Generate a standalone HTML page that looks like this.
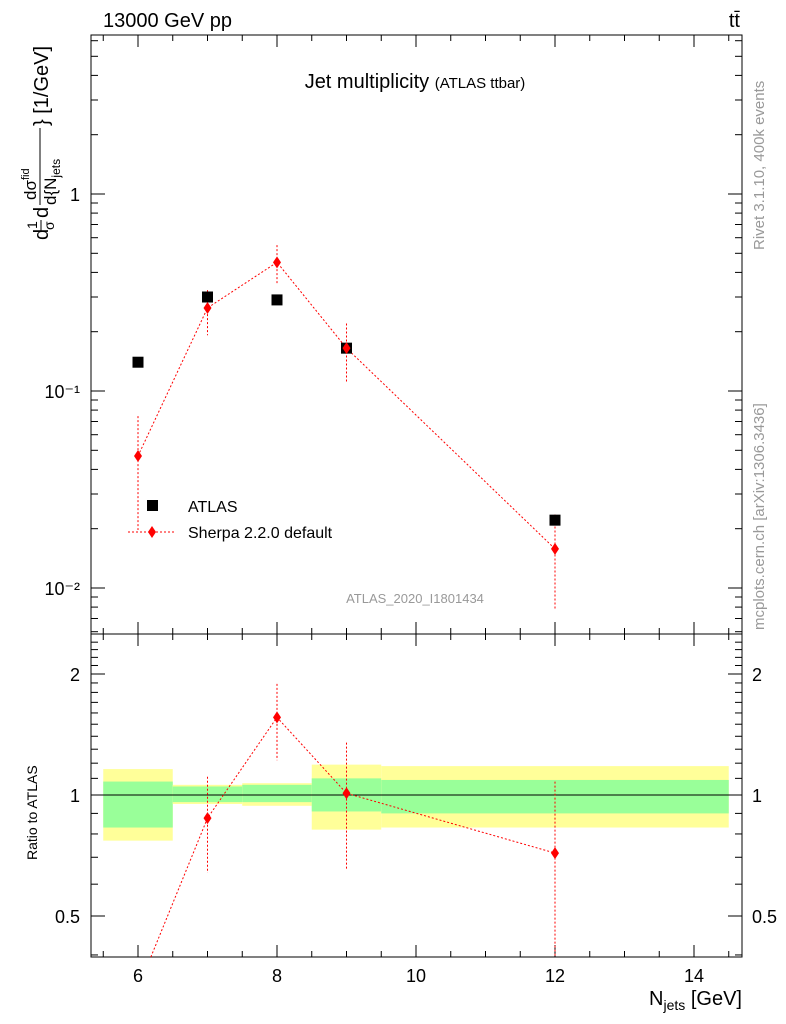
<!DOCTYPE html>
<html><head><meta charset="utf-8"><style>
body{margin:0;background:#fff}
svg{display:block;font-family:"Liberation Sans",sans-serif}
</style></head><body>
<svg id="c" width="786" height="1024" viewBox="0 0 786 1024">
<rect width="786" height="1024" fill="#fff"/>
<g id="bands"></g>
<g id="frames"></g>
<g id="ticks"></g>
<g id="series"></g>
<text x="103" y="27" font-size="20">13000 GeV pp</text>
<text x="740" y="27" font-size="20" text-anchor="end">tt̄</text>
<text x="415" y="88" font-size="20" text-anchor="middle">Jet multiplicity <tspan font-size="15">(ATLAS ttbar)</tspan></text>
<text x="415" y="603" font-size="13" fill="#999" text-anchor="middle">ATLAS_2020_I1801434</text>
<text transform="translate(764,250) rotate(-90)" font-size="15" fill="#999">Rivet 3.1.10,  400k events</text>
<text transform="translate(764,630) rotate(-90)" font-size="15" fill="#999">mcplots.cern.ch [arXiv:1306.3436]</text>
<g transform="rotate(-90)">
<text x="-240" y="48" font-size="20">d</text>
<text x="-229" y="37" font-size="14">1</text>
<text x="-230" y="54" font-size="14">σ</text>
<line x1="-231" x2="-220" y1="41" y2="41" stroke="#000"/>
<text x="-218" y="48" font-size="20">d</text>
<text x="-200" y="36" font-size="17">dσ<tspan font-size="11" dy="-7">fid</tspan></text>
<line x1="-205" x2="-128" y1="40" y2="40" stroke="#000"/>
<text x="-205" y="56" font-size="17">d{N<tspan font-size="12" dy="4">jets</tspan></text>
<text x="-126" y="48" font-size="20">} [1/GeV]</text>
</g>
<text transform="translate(37,860) rotate(-90)" font-size="14">Ratio to ATLAS</text>
<text x="742" y="1005" font-size="20" text-anchor="end">N<tspan font-size="14" dy="5">jets</tspan><tspan dy="-5"> [GeV]</tspan></text>
<g>
<rect x="147" y="500" width="11" height="11" fill="#000"/>
<text x="188" y="512" font-size="16">ATLAS</text>
<line x1="128" y1="532" x2="176" y2="532" stroke="red" stroke-dasharray="2,2"/>
<polygon points="152,526 156,532 152,538 148,532" fill="red"/>
<text x="188" y="538" font-size="16">Sherpa 2.2.0 default</text>
</g>
</svg>
<script>
const xCats=[6,7,8,9,12];
const dataVals=[0.14,0.30,0.29,0.165,0.0221];
const mcVals=[0.0468,0.264,0.45,0.165,0.0158];
const mcUp=[0.0746,0.325,0.55,0.22,0.0236];
const mcDn=[0.0197,0.192,0.35,0.11,0.0077];
const ratioVals=[0.33,0.876,1.56,1.01,0.717];
const ratioUp=[0.53,1.11,1.89,1.35,1.08];
const ratioDn=[0.14,0.64,1.22,0.65,0.3];
const binEdges=[[5.5,6.5],[6.5,7.5],[7.5,8.5],[8.5,9.5],[9.5,14.5]];
const yelHi=[1.16,1.06,1.07,1.19,1.18];
const yelLo=[0.77,0.95,0.94,0.82,0.83];
const grnHi=[1.08,1.05,1.06,1.10,1.09];
const grnLo=[0.83,0.96,0.96,0.91,0.90];
const xTicks=[6,8,10,12,14];
const yTicks=[[1,"1"],[0.1,"10⁻¹"],[0.01,"10⁻²"]];
const rTicks=[[0.5,"0.5"],[1,"1"],[2,"2"]];

const NS="http://www.w3.org/2000/svg";
const L=91,R=742,T=35,M=634,B=957;
const X=v=>138+(v-6)*69.5;
const Y=v=>194-Math.log10(v)*197;
const YR=v=>795-Math.log2(v)*121;
function mk(par,tag,attrs,name){const e=document.createElementNS(NS,tag);for(const k in attrs)e.setAttribute(k,attrs[k]);


document.getElementById(par).appendChild(e);return e;}
binEdges.forEach((b,i)=>{
 mk('bands','rect',{x:X(b[0]),y:YR(yelHi[i]),width:X(b[1])-X(b[0]),height:YR(yelLo[i])-YR(yelHi[i]),fill:'#ffff99'},'yellow-band');
 mk('bands','rect',{x:X(b[0]),y:YR(grnHi[i]),width:X(b[1])-X(b[0]),height:YR(grnLo[i])-YR(grnHi[i]),fill:'#99ff99'},'green-band');
});
mk('bands','line',{x1:L,x2:R,y1:YR(1),y2:YR(1),stroke:'#000'},'unity-line');
mk('frames','rect',{x:L,y:T,width:R-L,height:M-T,fill:'none',stroke:'#000'},'main-frame');
mk('frames','rect',{x:L,y:M,width:R-L,height:B-M,fill:'none',stroke:'#000'},'ratio-frame');
for(let v=5.4;v<=14.6;v+=0.5){const x=X(Math.round(v*2)/2);if(x<L||x>R)continue;const len=(Math.round(v*2)%4===0)?12:6;
 [[T,1],[M,-1],[M,1],[B,-1]].forEach(([y0,d])=>mk('ticks','line',{x1:x,x2:x,y1:y0,y2:y0+d*len,stroke:'#000'},'x-tick'));}
xTicks.forEach(v=>{const t=mk('ticks','text',{x:X(v),y:982,'font-size':18,'text-anchor':'middle'},'x-tick-label');t.textContent=v;});
for(let d=-3;d<=0;d++)for(let m=1;m<=9;m++){const v=m*Math.pow(10,d);const y=Y(v);if(y<T||y>M)continue;const len=m===1?14:7;
 mk('ticks','line',{x1:L,x2:L+len,y1:y,y2:y,stroke:'#000'},'y-tick');mk('ticks','line',{x1:R,x2:R-len,y1:y,y2:y,stroke:'#000'},'y-tick');}
yTicks.forEach(([v,s])=>{const t=mk('ticks','text',{x:80,y:Y(v)+7,'font-size':18,'text-anchor':'end'},'y-tick-label');t.textContent=s;});
for(let v=0.4;v<=2.5;v+=0.1){const y=YR(v);if(y<M||y>B)continue;const maj=[0.5,1,2].some(m=>Math.abs(m-v)<0.01);const len=maj?14:7;
 mk('ticks','line',{x1:L,x2:L+len,y1:y,y2:y,stroke:'#000'},'ratio-tick');mk('ticks','line',{x1:R,x2:R-len,y1:y,y2:y,stroke:'#000'},'ratio-tick');}
rTicks.forEach(([v,s])=>{let t=mk('ticks','text',{x:80,y:YR(v)+7,'font-size':18,'text-anchor':'end'},'ratio-tick-label');t.textContent=s;
 t=mk('ticks','text',{x:752,y:YR(v)+7,'font-size':18},'ratio-tick-label-right');t.textContent=s;});
mk('series','polyline',{points:xCats.map((x,i)=>X(x)+','+Y(mcVals[i])).join(' '),fill:'none',stroke:'red','stroke-dasharray':'2,2'},'sherpa-line');
xCats.forEach((x,i)=>{mk('series','line',{x1:X(x),x2:X(x),y1:Y(mcUp[i]),y2:Y(mcDn[i]),stroke:'red','stroke-dasharray':'2,2'},'sherpa-error');
 mk('series','rect',{x:X(x)-5.5,y:Y(dataVals[i])-5.5,width:11,height:11,fill:'#000'},'atlas-point');
 const cx=X(x),cy=Y(mcVals[i]);mk('series','polygon',{points:`${cx},${cy-6} ${cx+4},${cy} ${cx},${cy+6} ${cx-4},${cy}`,fill:'red'},'sherpa-point');});
const rp=xCats.map((x,i)=>[X(x),YR(ratioVals[i])]);
let pts=rp.slice();
if(pts[0][1]>B){const [x0,y0]=pts[0],[x1,y1]=pts[1];const t=(B-y1)/(y0-y1);pts[0]=[x1+(x0-x1)*t,B];}
mk('series','polyline',{points:pts.map(p=>p.join(',')).join(' '),fill:'none',stroke:'red','stroke-dasharray':'2,2'},'ratio-line');
xCats.forEach((x,i)=>{const cy=YR(ratioVals[i]);if(cy>B)return;const cx=X(x);
 mk('series','line',{x1:cx,x2:cx,y1:YR(ratioUp[i]),y2:Math.min(B,YR(ratioDn[i])),stroke:'red','stroke-dasharray':'2,2'},'ratio-error');
 mk('series','polygon',{points:`${cx},${cy-6} ${cx+4},${cy} ${cx},${cy+6} ${cx-4},${cy}`,fill:'red'},'ratio-point');});
</script>
</body></html>
